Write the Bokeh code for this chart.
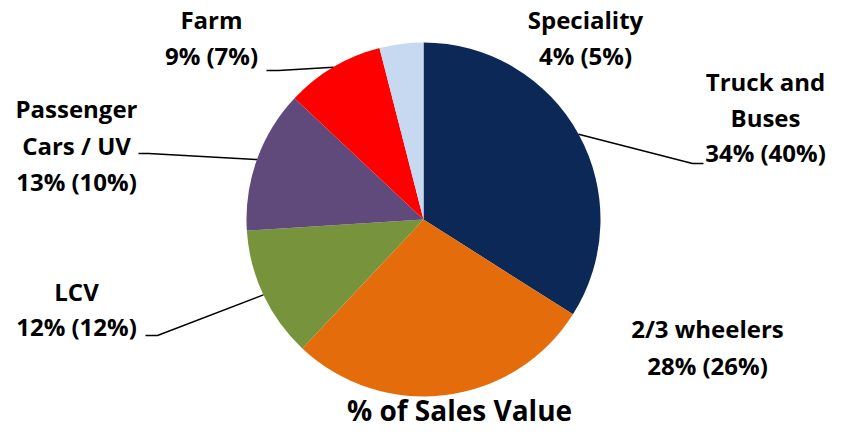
import math
from bokeh.plotting import figure
from bokeh.models import Range1d, ColumnDataSource
from bokeh.core.properties import value
from bokeh.embed import file_html
from bokeh.resources import INLINE

# ---- data ----
categories = ["Truck and Buses", "2/3 wheelers", "LCV", "Passenger Cars / UV", "Farm", "Speciality"]
shares = [34, 28, 12, 13, 9, 4]
label_lines = [
    ["Truck and", "Buses", "34% (40%)"],
    ["2/3 wheelers", "28% (26%)"],
    ["LCV", "12% (12%)"],
    ["Passenger", "Cars / UV", "13% (10%)"],
    ["Farm", "9% (7%)"],
    ["Speciality", "4% (5%)"],
]
colors = ["#0B2856", "#E46C0A", "#77933C", "#604A7B", "#FF0000", "#C6D9F1"]
title_text = "% of Sales Value"

# ---- layout (screen-like coordinates; y measured upward from plot bottom) ----
W, H = 829, 429
cx, cy, R = 423, H - 219, 177
label_pos = [  # centre x, first-line y (screen), line step
    (765, 81, 35.5),
    (707, 328, 36.5),
    (76, 291, 35),
    (76, 108, 36.5),
    (211, 19, 35.5),
    (585, 19, 35.5),
]
# leader line elbows (screen coords)
leaders = {
    0: [(692, 163), (703, 163)],
    2: [(157, 335), (145, 335)],
    3: [(148, 153), (138, 153)],
    4: [(278, 70), (266, 70)],
}

p = figure(width=W, height=H, output_backend="svg", toolbar_location=None,
           x_range=Range1d(0, W), y_range=Range1d(0, H), min_border=0)
p.axis.visible = False
p.grid.visible = False
p.outline_line_color = None

total = sum(shares)
starts, ends, mids = [], [], []
cum = 0.0
for s in shares:
    a0 = cum / total
    cum += s
    a1 = cum / total
    starts.append(math.pi / 2 - a0 * 2 * math.pi)
    ends.append(math.pi / 2 - a1 * 2 * math.pi)
    mids.append(math.pi / 2 - (a0 + a1) / 2 * 2 * math.pi)

src = ColumnDataSource(dict(start=starts, end=ends, color=colors, cat=categories))
p.wedge(x=cx, y=cy, radius=R, start_angle="start", end_angle="end", direction="clock",
        fill_color="color", line_color=None, source=src)

# leader lines
for i, pts in leaders.items():
    ex = cx + R * math.cos(mids[i])
    ey = cy + R * math.sin(mids[i])
    xs = [ex] + [x for x, _ in pts]
    ys = [ey] + [H - y for _, y in pts]
    p.line(xs, ys, line_color="black", line_width=1.5)

# labels
tx, ty, tt = [], [], []
for (x, y0, step), lines in zip(label_pos, label_lines):
    for k, t in enumerate(lines):
        tx.append(x)
        ty.append(H - (y0 + k * step))
        tt.append(t)
p.text(x=tx, y=ty, text=tt, text_align="center", text_baseline="middle",
       text_font=value("Open Sans"), text_font_style="bold", text_font_size="24px",
       text_color="black")

p.text(x=[459], y=[H - 409], text=[title_text], text_align="center", text_baseline="middle",
       text_font=value("Open Sans"), text_font_style="bold", text_font_size="28px",
       text_color="black")

open("out.html", "w").write(file_html(p, INLINE))
